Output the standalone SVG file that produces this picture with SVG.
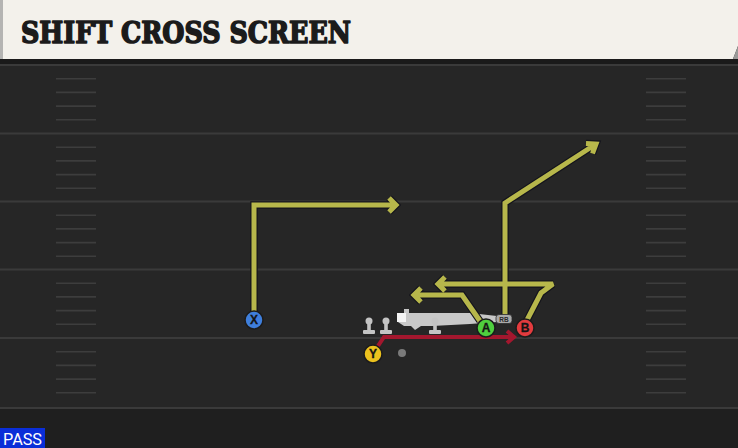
<svg xmlns="http://www.w3.org/2000/svg" width="738" height="448" viewBox="0 0 738 448">
<style>
.yl{stroke:#3a3a3a;stroke-width:2}
.hm{stroke:#3d3d3d;stroke-width:1.6}
.ro{fill:none;stroke:#14141c;stroke-width:7.4;stroke-linejoin:miter;stroke-miterlimit:3;stroke-linecap:butt}
.rt{fill:none;stroke:#b7b74b;stroke-width:5;stroke-linejoin:miter;stroke-miterlimit:3;stroke-linecap:butt}
.rd{fill:none;stroke:#a3172e;stroke-width:4;stroke-linejoin:miter}
.pc{stroke:#1c1c1c;stroke-width:1.5}
.pl{font-family:"Liberation Sans",Arial,sans-serif;font-weight:bold;font-size:12px;fill:#151515;text-anchor:middle;stroke:#151515;stroke-width:0.3}
.ln{fill:#c4c4c4}
</style>
<defs>
<g id="hash">
<line class="hm" x1="0" y1="13.7" x2="40" y2="13.7"/>
<line class="hm" x1="0" y1="27.4" x2="40" y2="27.4"/>
<line class="hm" x1="0" y1="41.1" x2="40" y2="41.1"/>
<line class="hm" x1="0" y1="54.8" x2="40" y2="54.8"/>
</g>
<g id="lineman">
<circle cx="0" cy="-11" r="3.5"/>
<rect x="-1.8" y="-11" width="3.6" height="10"/>
<rect x="-6" y="-2" width="12" height="4" rx="1"/>
</g>
</defs>
<!-- field -->
<rect x="0" y="0" width="738" height="448" fill="#262626"/>
<rect x="0" y="408" width="738" height="40" fill="#1f1f1f"/>
<rect x="0" y="57" width="738" height="8" fill="#1a1a1a"/>
<g id="yardlines">
<line class="yl" x1="0" y1="65" x2="738" y2="65"/>
<line class="yl" x1="0" y1="133.5" x2="738" y2="133.5"/>
<line class="yl" x1="0" y1="201.5" x2="738" y2="201.5"/>
<line class="yl" x1="0" y1="269.5" x2="738" y2="269.5"/>
<line class="yl" x1="0" y1="338" x2="738" y2="338"/>
<line class="yl" x1="0" y1="408" x2="738" y2="408"/>
</g>
<g id="hashes">
<use href="#hash" x="56" y="65"/><use href="#hash" x="646" y="65"/>
<use href="#hash" x="56" y="133.5"/><use href="#hash" x="646" y="133.5"/>
<use href="#hash" x="56" y="201.5"/><use href="#hash" x="646" y="201.5"/>
<use href="#hash" x="56" y="269.5"/><use href="#hash" x="646" y="269.5"/>
<use href="#hash" x="56" y="338"/><use href="#hash" x="646" y="338"/>
</g>
<!-- header -->
<g id="header">
<path d="M0,0 H738 V46 L733,59 H0 Z" fill="#f3f1eb"/>
<rect x="0" y="0" width="3" height="59" fill="#b4b4b2"/>
<path d="M738,46 L733,59 H738 Z" fill="#9a9a98"/>
<text x="21" y="43" font-family="'DejaVu Serif','Liberation Serif',serif" font-weight="bold" font-size="29" textLength="330" lengthAdjust="spacingAndGlyphs" fill="#1b1b1b" stroke="#1b1b1b" stroke-width="1.6" stroke-linejoin="round">SHIFT CROSS SCREEN</text>
</g>
<!-- formation shape -->
<g id="formation" fill="#c8c8c8">
<path d="M398,314 H404 V309 H409 V313 H470 L497,316 V322 L470,324 L432,326 L421,326 L415,330 L411,326 L404,326 L398,322 Z"/>
<rect x="397" y="313" width="9" height="9" fill="#f4f4f4"/>
</g>
<g id="linemen" class="ln">
<use href="#lineman" x="369" y="332"/>
<use href="#lineman" x="386" y="332"/>
<use href="#lineman" x="435" y="332"/>
</g>
<!-- connectors -->
<g id="connectors">
<path class="ro" d="M254,320 V205 H396 M389,198 L396,205 L389,212"/>
<path class="ro" d="M505,319 V203 L596,144 M586,143.5 L596,144 L592.5,153.5"/>
<path class="ro" d="M526,322 L541,293 L553,284 H438 M445,277 L438,284 L445,291"/>
<path class="ro" d="M480,321 L462,295 H414 M421,288 L414,295 L421,302"/>
<path class="rt" d="M254,320 V205 H396 M389,198 L396,205 L389,212"/>
<path class="rt" d="M505,319 V203 L596,144 M586,143.5 L596,144 L592.5,153.5"/>
<path class="rt" d="M526,322 L541,293 L553,284 H438 M445,277 L438,284 L445,291"/>
<path class="rt" d="M480,321 L462,295 H414 M421,288 L414,295 L421,302"/>
<path class="rd" d="M374,352 L384,337 H512 M507,331 L514,337 L507,343"/>
</g>
<!-- RB -->
<g id="rb">
<rect x="496" y="314.5" width="16" height="9" rx="3" fill="#a9a9a9" stroke="#2a2a2a" stroke-width="0.8"/>
<text x="504" y="322" font-family="'Liberation Sans',Arial,sans-serif" font-weight="bold" font-size="6.5" fill="#2a2a2a" text-anchor="middle">RB</text>
</g>
<g id="X"><circle class="pc" cx="254" cy="320" r="9" fill="#3f7fdc"/><text class="pl" x="254" y="324.3">X</text></g>
<g id="A"><circle class="pc" cx="486" cy="328" r="9" fill="#4fcf3e"/><text class="pl" x="486" y="332.3">A</text></g>
<g id="B"><circle class="pc" cx="525" cy="328" r="9" fill="#e33b3e"/><text class="pl" x="525" y="332.3">B</text></g>
<g id="Y"><circle class="pc" cx="373" cy="354" r="9" fill="#ecc21e"/><text class="pl" x="373" y="358.3">Y</text></g>
<g id="dot"><circle cx="402" cy="353" r="4" fill="#7a7a7a"/></g>
<!-- PASS badge -->
<g id="pass">
<rect x="0" y="428" width="45" height="20" fill="#0a2ed8"/>
<text x="3" y="444.5" font-family="Roboto,'Liberation Sans',sans-serif" font-size="16" textLength="39" lengthAdjust="spacingAndGlyphs" fill="#ffffff">PASS</text>
</g>
</svg>
